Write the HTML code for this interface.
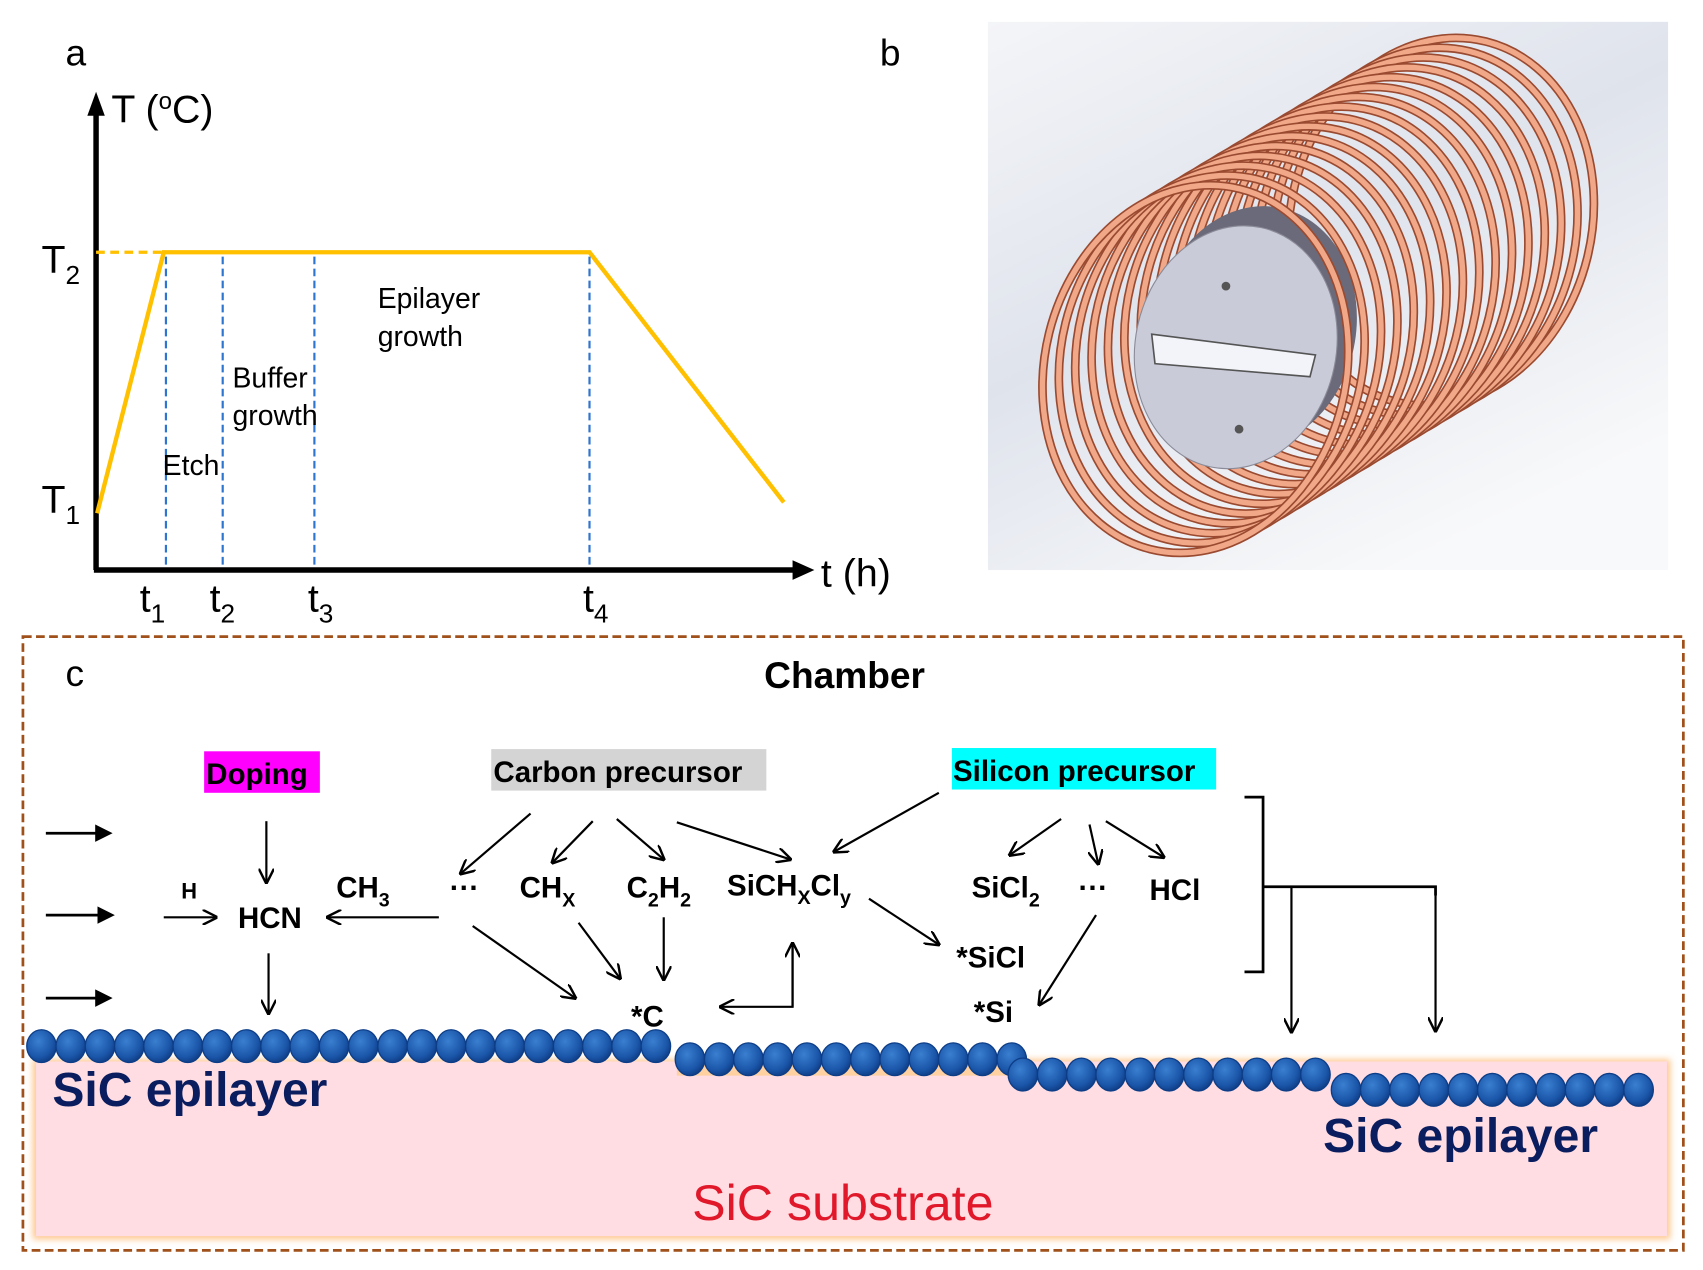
<!DOCTYPE html>
<html><head><meta charset="utf-8"><style>
html,body{margin:0;padding:0;background:#fff;}
svg{display:block}
text{font-family:"Liberation Sans",Arial,sans-serif}
.b{font-weight:bold}
</style></head><body>
<svg id="s" width="1703" height="1270" viewBox="0 0 1560 1163" preserveAspectRatio="none" xmlns="http://www.w3.org/2000/svg">
<defs>
<marker id="ah" viewBox="0 0 10 10" refX="9" refY="5" markerWidth="14" markerHeight="14" markerUnits="userSpaceOnUse" orient="auto"><path d="M0,0 L10,5 L0,10" fill="none" stroke="#000" stroke-width="1.6"/></marker>
<marker id="ahs" viewBox="0 0 10 10" refX="8" refY="5" markerWidth="16" markerHeight="16" markerUnits="userSpaceOnUse" orient="auto"><path d="M0,0 L10,5 L0,10 Z" fill="#000"/></marker>
<radialGradient id="atom" cx="0.4" cy="0.35" r="0.7"><stop offset="0" stop-color="#3a7fd0"/><stop offset="0.7" stop-color="#1a55a8"/><stop offset="1" stop-color="#0e3a80"/></radialGradient>
<linearGradient id="bg" x1="0" y1="0" x2="0.6" y2="1"><stop offset="0" stop-color="#f4f5f8"/><stop offset="0.5" stop-color="#dfe3ec"/><stop offset="1" stop-color="#f8f9fa"/></linearGradient>
<filter id="glow"><feGaussianBlur stdDeviation="3"/></filter>
</defs>

<!-- panel a -->
<text x="60" y="60" font-size="34">a</text>
<line x1="88" y1="522" x2="88" y2="100" stroke="#000" stroke-width="5"/>
<path d="M80,106 L88,84 L96,106 Z"/>
<text x="102" y="112" font-size="36">T (<tspan font-size="22" dy="-12">o</tspan><tspan dy="12">C)</tspan></text>
<line x1="86" y1="522" x2="730" y2="522" stroke="#000" stroke-width="5"/>
<path d="M726,513 L746,522 L726,531 Z"/>
<text x="752" y="537" font-size="36">t (h)</text>
<line x1="88" y1="231" x2="150" y2="231" stroke="#ffc000" stroke-width="3" stroke-dasharray="8,5"/>
<polyline points="89,470 150,231 540,231 718,460" fill="none" stroke="#ffc000" stroke-width="4"/>
<g stroke="#2e75cf" stroke-width="2" stroke-dasharray="7,4">
<line x1="152" y1="235" x2="152" y2="520"/><line x1="204" y1="235" x2="204" y2="520"/>
<line x1="288" y1="235" x2="288" y2="520"/><line x1="540" y1="235" x2="540" y2="520"/></g>
<text x="38" y="250" font-size="36">T<tspan font-size="24" dy="10">2</tspan></text>
<text x="38" y="470" font-size="36">T<tspan font-size="24" dy="10">1</tspan></text>
<g font-size="36"><text x="128" y="560">t<tspan font-size="24" dy="10">1</tspan></text>
<text x="192" y="560">t<tspan font-size="24" dy="10">2</tspan></text>
<text x="282" y="560">t<tspan font-size="24" dy="10">3</tspan></text>
<text x="534" y="560">t<tspan font-size="24" dy="10">4</tspan></text></g>
<g font-size="26"><text x="346" y="282">Epilayer</text><text x="346" y="317">growth</text>
<text x="213" y="355">Buffer</text><text x="213" y="389">growth</text><text x="149" y="435">Etch</text></g>

<!-- panel b -->
<text x="806" y="60" font-size="34">b</text>
<rect x="905" y="20" width="623" height="502" fill="url(#bg)"/>
<g id="coil"></g>

<!-- panel c -->
<rect x="21" y="583" width="1521" height="562" fill="none" stroke="#a0501a" stroke-width="2.5" stroke-dasharray="8,4"/>
<text x="60" y="628" font-size="34">c</text>
<text x="700" y="630" font-size="34" class="b">Chamber</text>

<rect x="30" y="970" width="1500" height="165" fill="#ffc890" filter="url(#glow)"/>
<rect x="33" y="972" width="1494" height="160" fill="#ffdde2"/>
<text x="634" y="1117" font-size="46" fill="#e0182a">SiC substrate</text>
<text x="48" y="1013" font-size="44" class="b" fill="#0a1d5e">SiC epilayer</text>
<text x="1212" y="1055" font-size="44" class="b" fill="#0a1d5e">SiC epilayer</text>
<g id="atoms"></g>

<rect x="187" y="688" width="106" height="38" fill="#ff00ff"/>
<text x="189" y="718" font-size="27" class="b">Doping</text>
<rect x="450" y="686" width="252" height="38" fill="#d4d4d4"/>
<text x="452" y="716" font-size="27" class="b">Carbon precursor</text>
<rect x="872" y="685" width="242" height="38" fill="#00ffff"/>
<text x="873" y="715" font-size="27" class="b">Silicon precursor</text>

<g font-size="27" class="b">
<text x="218" y="850">HCN</text>
<text x="166" y="823" font-size="20">H</text>
<text x="308" y="822">CH<tspan font-size="18" dy="8">3</tspan></text>
<text x="412" y="822">···</text>
<text x="476" y="822">CH<tspan font-size="18" dy="8">X</tspan></text>
<text x="574" y="822">C<tspan font-size="18" dy="8">2</tspan><tspan dy="-8">H</tspan><tspan font-size="18" dy="8">2</tspan></text>
<text x="666" y="820">SiCH<tspan font-size="18" dy="8">X</tspan><tspan dy="-8">Cl</tspan><tspan font-size="18" dy="8">y</tspan></text>
<text x="890" y="822">SiCl<tspan font-size="18" dy="8">2</tspan></text>
<text x="988" y="822">···</text>
<text x="1053" y="824">HCl</text>
<text x="876" y="886">*SiCl</text>
<text x="892" y="936">*Si</text>
<text x="578" y="940">*C</text>
</g>

<g stroke="#000" stroke-width="2.5" fill="none">
<line x1="42" y1="763" x2="100" y2="763" marker-end="url(#ahs)"/>
<line x1="42" y1="838" x2="102" y2="838" marker-end="url(#ahs)"/>
<line x1="42" y1="914" x2="100" y2="914" marker-end="url(#ahs)"/>
</g>
<g stroke="#000" stroke-width="2" fill="none" marker-end="url(#ah)">
<line x1="150" y1="840" x2="198" y2="840"/>
<line x1="244" y1="752" x2="244" y2="808"/>
<line x1="246" y1="873" x2="246" y2="928"/>
<line x1="402" y1="840" x2="300" y2="840"/>
<line x1="486" y1="745" x2="422" y2="800"/>
<line x1="543" y1="752" x2="506" y2="790"/>
<line x1="565" y1="750" x2="608" y2="787"/>
<line x1="620" y1="753" x2="724" y2="787"/>
<line x1="433" y1="848" x2="527" y2="914"/>
<line x1="530" y1="845" x2="568" y2="896"/>
<line x1="608" y1="840" x2="608" y2="897"/>
<line x1="860" y1="726" x2="764" y2="780"/>
<line x1="972" y1="750" x2="925" y2="783"/>
<line x1="998" y1="755" x2="1006" y2="791"/>
<line x1="1013" y1="752" x2="1066" y2="785"/>
<line x1="796" y1="823" x2="860" y2="865"/>
<line x1="1004" y1="838" x2="952" y2="920"/>
<polyline points="726,863 726,922 660,922"/>
<line x1="726" y1="922" x2="726" y2="864"/>
<line x1="1183" y1="812" x2="1183" y2="945"/>
<line x1="1315" y1="812" x2="1315" y2="944"/>
</g>
<g stroke="#000" stroke-width="2.5" fill="none">
<polyline points="1140,730 1157,730 1157,890 1140,890"/>
<polyline points="1157,812 1315,812 1315,820"/>
</g>
</svg>
<script>
var NS="http://www.w3.org/2000/svg";
function el(p,t,a){var e=document.createElementNS(NS,t);for(var k in a)e.setAttribute(k,a[k]);p.appendChild(e);return e;}
var A=document.getElementById("atoms");
function row(x0,x1,y){for(var x=x0;x<=x1+0.1;x+=26.8){el(A,"ellipse",{cx:x,cy:y,rx:13.5,ry:15,fill:"url(#atom)",stroke:"#0d3d87","stroke-width":1.2});}}
el(A,"rect",{x:620,y:975,width:318,height:10,fill:"#ffd0a0"});
row(38,605,958);row(632,930,970);row(937,1207,984);row(1233,1505,998);
var C=document.getElementById("coil");
for(var i=15;i>=0;i--){var cx=1095+i*15,cy=338-i*9;
var tr="rotate(14 "+cx+" "+cy+")";
el(C,"ellipse",{cx:cx,cy:cy,rx:138,ry:170,transform:tr,fill:"none",stroke:"#9a4a30","stroke-width":8});
el(C,"ellipse",{cx:cx,cy:cy,rx:138,ry:170,transform:tr,fill:"none",stroke:"#f0a888","stroke-width":5});
if(i==2){el(C,"ellipse",{cx:1150,cy:300,rx:92,ry:112,transform:"rotate(12 1150 300)",fill:"#6a6a7a"});
el(C,"ellipse",{cx:1132,cy:318,rx:92,ry:112,transform:"rotate(12 1132 318)",fill:"#c9cbd9",stroke:"#8a8a98","stroke-width":1});
el(C,"polygon",{points:"1055,306 1205,325 1200,345 1058,333",fill:"#f2f4fa",stroke:"#555","stroke-width":1.5});
el(C,"circle",{cx:1123,cy:262,r:4,fill:"#555"});el(C,"circle",{cx:1135,cy:393,r:4,fill:"#555"});}}
</script>
</body></html>
